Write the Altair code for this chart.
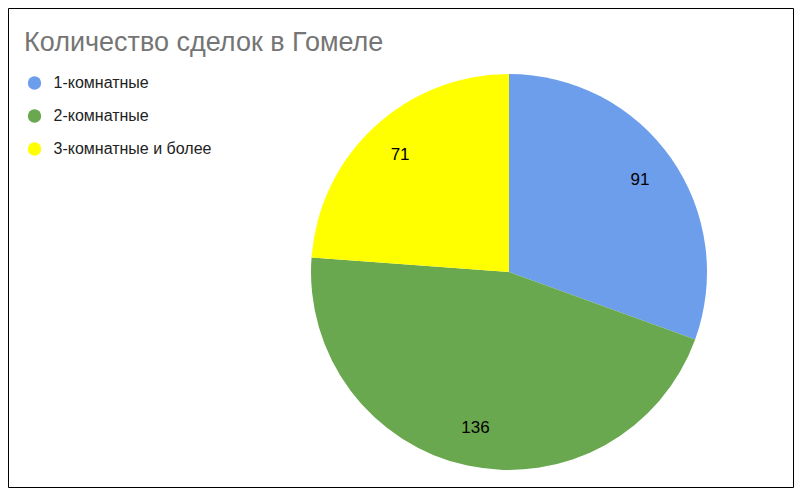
import altair as alt
import pandas as pd

categories = ["1-комнатные", "2-комнатные", "3-комнатные и более"]
counts = [91, 136, 71]
order_idx = [0, 1, 2]
colors = ["#6d9eeb", "#6aa84f", "#ffff00"]
title_text = "Количество сделок в Гомеле"

df = pd.DataFrame({"cat": categories, "n": counts, "ord": order_idx})

FONT = "Liberation Sans, Arial, sans-serif"
W, H = 786, 430
CX, CY = 501, 214

color_enc = alt.Color(
    "cat:N",
    scale=alt.Scale(domain=categories, range=colors),
    legend=alt.Legend(
        title=None,
        orient="none",
        legendX=18.5,
        legendY=17,
        symbolType="circle",
        symbolSize=180,
        symbolStrokeWidth=0,
        labelFontSize=16,
        labelFont=FONT,
        labelColor="#222222",
        labelOffset=11,
        rowPadding=17,
    ),
)

base = alt.Chart(df).encode(
    theta=alt.Theta("n:Q", stack=True),
    order=alt.Order("ord:Q"),
)

pie = base.mark_arc(outerRadius=198, strokeWidth=0).encode(
    color=color_enc,
    x=alt.value(CX),
    y=alt.value(CY),
)

labels = base.mark_text(radius=160, fontSize=17, font=FONT, color="black").encode(
    text=alt.Text("n:Q"),
    detail="cat:N",
    x=alt.value(CX),
    y=alt.value(CY),
)

frame = alt.Chart(pd.DataFrame({"k": [0]})).mark_rect(
    fill="transparent", stroke="black", strokeWidth=1
).encode(
    x=alt.value(0.5), x2=alt.value(W - 0.5), y=alt.value(-49.5), y2=alt.value(H - 0.5)
)

chart = (
    alt.layer(pie, labels, frame)
    .properties(
        width=W,
        height=H,
        padding={"left": 0, "top": 50, "right": 0, "bottom": 0},
        autosize=alt.AutoSizeParams(type="none"),
        title=alt.TitleParams(
            title_text,
            anchor="start",
            frame="group",
            dx=16,
            dy=49,
            offset=0,
            fontSize=27,
            font=FONT,
            fontWeight="normal",
            color="#757575",
        ),
    )
    .configure_view(stroke=None)
)

chart.save("out.html", embed_options={"renderer": "svg", "actions": False})
